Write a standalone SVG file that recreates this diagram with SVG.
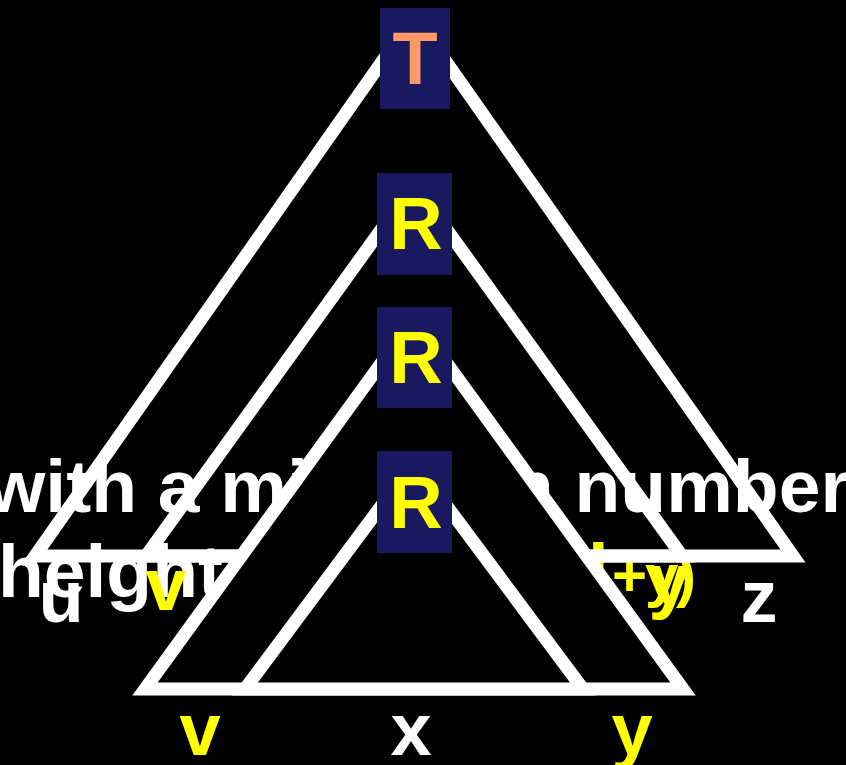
<svg xmlns="http://www.w3.org/2000/svg" width="846" height="765" viewBox="0 0 846 765">
  <style>
    text { font-family: "Liberation Sans", Arial, sans-serif; font-weight: bold; }
    .big { font-size: 75px; }
    .w { fill: #ffffff; }
    .yl { fill: #ffff00; }
    .tri { stroke: #ffffff; stroke-width: 13; stroke-linejoin: miter; stroke-linecap: butt; stroke-miterlimit: 10; }
    .box { fill: #191960; }
    .lbl { font-size: 74px; text-anchor: middle; }
  </style>
  <rect x="0" y="0" width="846" height="765" fill="#000000"/>
  <g id="caption">
    <text class="big w" x="-13" y="512">with a minimum number</text>
    <text class="big w" x="-2" y="597">height</text>
    <text class="yl" y="596" font-size="60"><tspan x="588" font-size="74">l</tspan><tspan x="612 645 676">+y)</tspan></text>
  </g>
  <g id="connectors">
    <path id="tri-T" class="tri" fill="none" d="M414,16 L35,556 L793,556 L414,16"/>
    <path id="tri-R1" class="tri" fill="none" d="M414,184 L146,556 L682,556 L414,184"/>
    <path id="tri-R2" class="tri" fill="#000000" d="M414,318 L145,689 L683,689 L414,318"/>
    <path id="tri-R3" class="tri" fill="#000000" d="M414,462 L245,689 L583,689 L414,462"/>
  </g>
  <g id="labels">
    <text class="lbl w" x="61" y="622">u</text>
    <text class="lbl yl" x="166" y="610">v</text>
    <text class="lbl yl" x="669" y="605">y</text>
    <text class="lbl w" x="759" y="622">z</text>
    <text class="lbl yl" x="200" y="755">v</text>
    <text class="lbl w" x="411" y="755">x</text>
    <text class="lbl yl" x="632" y="755">y</text>
  </g>
  <g id="node-T">
    <rect class="box" x="380" y="8" width="70" height="101"/>
    <text class="lbl" x="415" y="84" fill="#ff9966">T</text>
  </g>
  <g id="node-R1">
    <rect class="box" x="377" y="173" width="75" height="102"/>
    <text class="lbl yl" x="416" y="249">R</text>
  </g>
  <g id="node-R2">
    <rect class="box" x="377" y="307" width="75" height="101"/>
    <text class="lbl yl" x="416" y="383">R</text>
  </g>
  <g id="node-R3">
    <rect class="box" x="377" y="451" width="75" height="102"/>
    <text class="lbl yl" x="416" y="528">R</text>
  </g>
</svg>
